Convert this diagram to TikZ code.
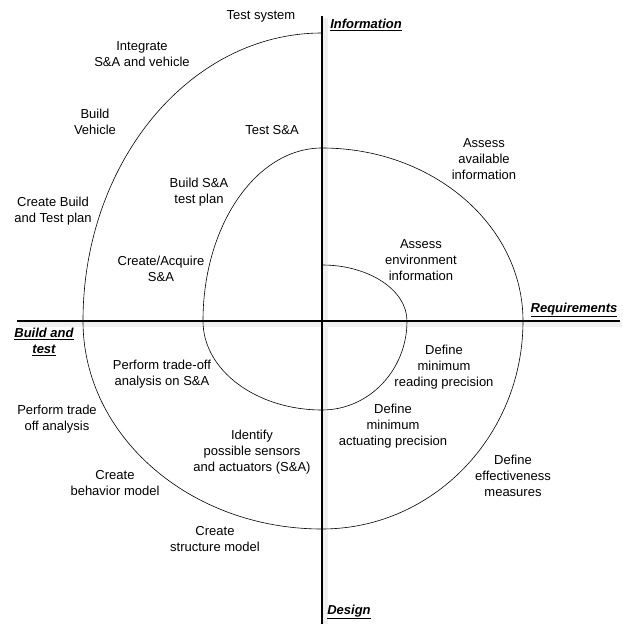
\documentclass[tikz,border=0pt]{standalone}
\usepackage{fontspec}
\setmainfont{Liberation Sans}
\usepackage{tikz}
\usetikzlibrary{positioning}

\begin{document}
\begin{tikzpicture}[
  x=1pt, y=1pt,
  every node/.style={font=\fontsize{13}{16}\selectfont},
  lbl/.style={align=center, inner sep=0pt},
  axislbl/.style={inner sep=0pt, align=center, font=\fontsize{13}{16}\selectfont\bfseries\itshape},
  axisline/.style={line width=2.6pt},
  axisshadow/.style={line width=6pt, gray!12},
  spiral/.style={line width=0.6pt}
]
\useasboundingbox (-322,-303) rectangle (301,321);
% axes
\coordinate (top) at (0,305);
\coordinate (bottom) at (0,-303);
\coordinate (left) at (-305,0);
\coordinate (right) at (298,0);
\draw[axisshadow] ([shift={(2,-3)}]left) -- ([shift={(2,-3)}]right);
\draw[axisshadow] ([shift={(3,-2)}]top) -- ([shift={(3,-2)}]bottom);
\draw[axisline] (left) -- (right);
\draw[axisline] (top) -- (bottom);
% spiral
\draw[spiral] (0,56)
  arc[start angle=90, end angle=0, x radius=85pt, y radius=56pt]
  arc[start angle=0, end angle=-90, x radius=85pt, y radius=89pt]
  arc[start angle=270, end angle=180, x radius=119pt, y radius=89pt]
  arc[start angle=180, end angle=90, x radius=119pt, y radius=173pt]
  arc[start angle=90, end angle=0, x radius=201pt, y radius=173pt]
  arc[start angle=0, end angle=-90, x radius=201pt, y radius=208pt]
  arc[start angle=270, end angle=180, x radius=239pt, y radius=208pt]
  arc[start angle=180, end angle=90, x radius=239pt, y radius=288pt];
% axis labels
\node[axislbl] (info) at (44,296) {\underline{Information}};
\node[axislbl] (req) at (252,11) {\underline{Requirements}};
\node[axislbl] (design) at (27,-291) {\underline{Design}};
\node[axislbl] (build) at (-278,-21) {\underline{Build and}\\\underline{test}};
% steps
\node[lbl] (testsys) at (-61,305) {Test system};
\node[lbl] (integrate) at (-180,267) {Integrate\\S\&A and vehicle};
\node[lbl] (buildveh) at (-227,199) {Build\\Vehicle};
\node[lbl] (btplan) at (-269,110) {Create Build\\and Test plan};
\node[lbl] (testsa) at (-50,191) {Test S\&A};
\node[lbl] (saplan) at (-123,129) {Build S\&A\\test plan};
\node[lbl] (acquire) at (-161,52) {Create/Acquire\\S\&A};
\node[lbl] (assessinfo) at (162,162) {Assess\\available\\information};
\node[lbl] (assessenv) at (99,61) {Assess\\environment\\information};
\node[lbl] (tradesa) at (-160,-53) {Perform trade-off\\analysis on S\&A};
\node[lbl] (trade) at (-265,-98) {Perform trade\\off analysis};
\node[lbl] (identify) at (-70,-131) {Identify\\possible sensors\\and actuators (S\&A)};
\node[lbl] (behavior) at (-207,-162) {Create\\behavior model};
\node[lbl] (structure) at (-107,-218) {Create\\structure model};
\node[lbl] (reading) at (122,-46) {Define\\minimum\\reading precision};
\node[lbl] (actuating) at (71,-105) {Define\\minimum\\actuating precision};
\node[lbl] (effect) at (191,-155) {Define\\effectiveness\\measures};
\end{tikzpicture}
\end{document}
